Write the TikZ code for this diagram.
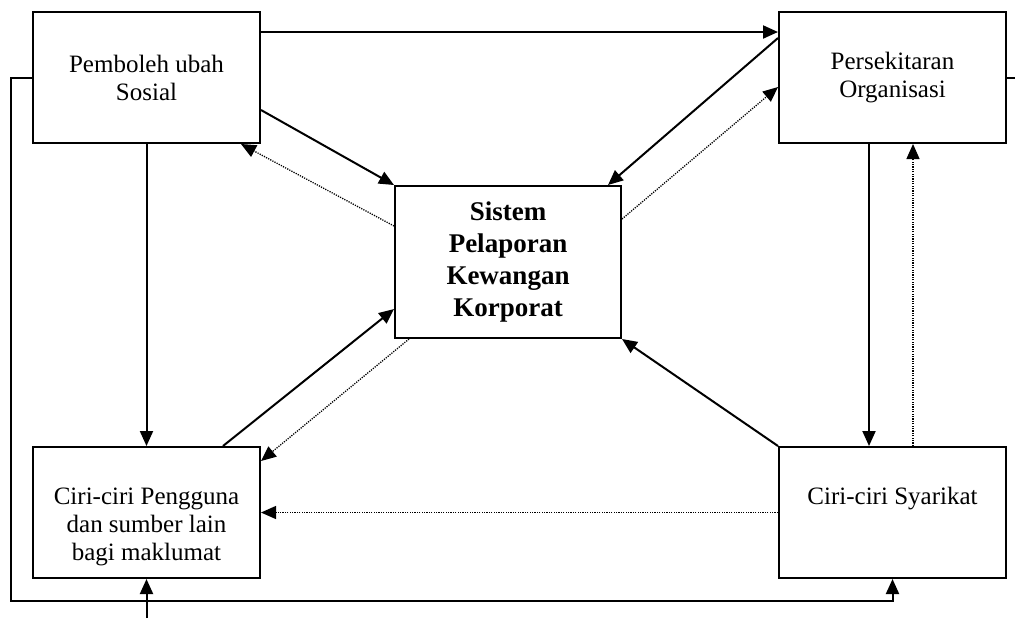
\documentclass[tikz,border=0pt]{standalone}
\usepackage{fontspec}
\setmainfont{Liberation Serif}
\usetikzlibrary{arrows.meta,calc}
\begin{document}
\begin{tikzpicture}[x=0.5pt,y=-0.5pt,
  box/.style={draw,line width=1pt,minimum width=113.5pt,minimum height=65.5pt,inner sep=0pt,align=center,font=\fontsize{12.5pt}{14pt}\selectfont},
  mainbox/.style={draw,line width=1pt,minimum width=113pt,minimum height=76pt,inner sep=0pt,align=center,font=\fontsize{13.5pt}{15.85pt}\selectfont\bfseries},
  arr/.style={line width=1pt,-{Triangle[length=7.5pt,width=6.5pt]}},
  dotarr/.style={line width=0.65pt,dash pattern=on 0.6pt off 0.6pt,-{Triangle[length=7.5pt,width=6.5pt]}},
  plain/.style={line width=1pt}]
\useasboundingbox (0,0) rectangle (1015,618);
% boxes
\node[box] (A) at (146.5,77.5) {Pemboleh ubah\\Sosial};
\node[box] (B) at (892.5,77.5) {Persekitaran\\Organisasi};
\node[box] (C) at (146.5,512.5) {\phantom{C}\\Ciri-ciri Pengguna\\dan sumber lain\\bagi maklumat};
\node[box] (D) at (892.5,512.5) {Ciri-ciri Syarikat\\\phantom{y}};
\node[mainbox] (S) at (508,262) {Sistem\\Pelaporan\\Kewangan\\Korporat};
% free ends
\coordinate (Bout) at (1015,77.5);
\coordinate (Cin) at (146.5,618);
% solid connectors
\draw[arr] ($(A.north east)+(0,21)$) -- ($(B.north west)+(0,21)$);
\draw[arr] (A.west) -- ++(-21,0) |- ($(D.south)+(0,22)$) -- (D.south);
\draw[plain] (B.east) -- (Bout);
\draw[arr] (Cin) -- (C.south);
\draw[arr] (A.south) -- (C.north);
\draw[arr] ($(A.north east)+(0,99)$) -- (S.north west);
\draw[arr] ($(B.north west)+(0,27)$) -- ($(S.north east)+(-14,0)$);
\draw[arr] ($(B.south)+(-23.5,0)$) -- ($(D.north)+(-23.5,0)$);
\draw[arr] (D.north west) -- (S.south east);
\draw[arr] ($(C.north east)+(-38,0)$) -- ($(S.south west)+(0,-30)$);
% dotted connectors
\draw[dotarr] ($(S.north west)+(0,41)$) -- ($(A.south east)+(-20,0)$);
\draw[dotarr] ($(S.north east)+(0,34)$) -- ($(B.north west)+(0,76)$);
\draw[dotarr] ($(D.north)+(20.5,0)$) -- ($(B.south)+(20.5,0)$);
\draw[dotarr] (D.west) -- (C.east);
\draw[dotarr] ($(S.south west)+(15,0)$) -- ($(C.north east)+(0,15)$);
\end{tikzpicture}
\end{document}
